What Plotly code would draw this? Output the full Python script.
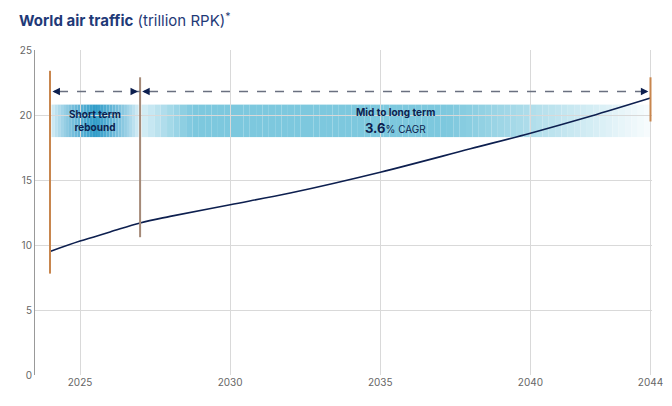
import plotly.graph_objects as go

years = [2024, 2025, 2026, 2027, 2028, 2030, 2032, 2035, 2038, 2040, 2042, 2044]
rpk = [9.5, 10.3, 11.0, 11.7, 12.2, 13.1, 14.0, 15.6, 17.4, 18.6, 19.9, 21.3]
xticks = [2025, 2030, 2035, 2040, 2044]
navy = "#0d1f4f"
band_lo, band_hi = 18.3, 20.8


def mix(a, b, t):
    return "rgb(%d,%d,%d)" % tuple(round(a[i] + (b[i] - a[i]) * t) for i in range(3))


light = (215, 238, 246)
mid = (125, 200, 222)
deep = (45, 155, 200)
white = (248, 252, 253)

shapes = []
# gradient bands built from thin slices
n = 30
for i in range(n):
    x0 = 2024.05 + (2026.95 - 2024.05) * i / n
    x1 = 2024.05 + (2026.95 - 2024.05) * (i + 1) / n
    t = 1 - abs((i + 0.5) / n - 0.5) * 2
    shapes.append(dict(type="rect", x0=x0, x1=x1, y0=band_lo, y1=band_hi, layer="below",
                       fillcolor=mix(light, deep, t ** 0.8), line=dict(width=0)))
n = 80
for i in range(n):
    x0 = 2027.05 + (2044 - 2027.05) * i / n
    x1 = 2027.05 + (2044 - 2027.05) * (i + 1) / n
    f = (i + 0.5) / n
    if f < 0.1:
        c = mix(light, mid, f / 0.1)
    elif f < 0.6:
        c = mix(mid, mid, 0)
    else:
        c = mix(mid, white, (f - 0.6) / 0.4)
    shapes.append(dict(type="rect", x0=x0, x1=x1, y0=band_lo, y1=band_hi, layer="below",
                       fillcolor=c, line=dict(width=0)))

fig = go.Figure()
fig.add_trace(go.Scatter(x=years, y=rpk, mode="lines", line=dict(color=navy, width=1.6,
                         shape="spline"), showlegend=False))

shapes += [
    dict(type="line", x0=2024, x1=2024, y0=7.8, y1=23.4, line=dict(color="#c8864e", width=2)),
    dict(type="line", x0=2027, x1=2027, y0=10.6, y1=22.9, line=dict(color="#a58a78", width=2)),
    dict(type="line", x0=2044, x1=2044, y0=19.5, y1=22.9, line=dict(color="#c8864e", width=2)),
    dict(type="line", x0=2024.3, x1=2043.7, y0=21.8, y1=21.8,
         line=dict(color="#6a7080", width=1.5, dash="dash")),
]
ann = []
for x0, x1 in [(2024.35, 2024.08), (2026.65, 2026.93), (2027.35, 2027.07), (2043.65, 2043.93)]:
    ann.append(dict(x=x1, y=21.8, ax=x0, ay=21.8, xref="x", yref="y", axref="x", ayref="y",
                    showarrow=True, arrowhead=2, arrowsize=1, arrowwidth=1.5,
                    arrowcolor=navy, text=""))
ann += [
    dict(x=2025.5, y=19.55, text="<b>Short term<br>rebound</b>", showarrow=False,
         font=dict(size=10, color=navy)),
    dict(x=2035.5, y=20.2, text="<b>Mid to long term</b>", showarrow=False,
         font=dict(size=10, color=navy)),
    dict(x=2035.5, y=19.0, text="<b><span style='font-size:13px'>3.6</span></b>% CAGR",
         showarrow=False, font=dict(size=10, color=navy)),
    dict(x=0, y=1.0, xref="paper", yref="paper", xanchor="left", yanchor="bottom",
         xshift=-18, yshift=18,
         text="<b>World air traffic</b> (trillion RPK)<sup>*</sup>", showarrow=False,
         font=dict(size=15, color="#1f3a78")),
]

fig.update_layout(
    width=672, height=406, plot_bgcolor="white", paper_bgcolor="white",
    margin=dict(l=18, r=28, t=42, b=39),
    font=dict(family="Inter, Roboto, sans-serif", color="#555"),
    shapes=shapes, annotations=ann,
    xaxis=dict(range=[2023.5, 2044.05], tickvals=xticks, showgrid=True, gridcolor="#d9d9d9",
               zeroline=False, showline=False, tickfont=dict(size=10, color="#666")),
    yaxis=dict(range=[0, 25], dtick=5, showgrid=True, gridcolor="#d9d9d9", zeroline=False,
               showline=True, linecolor="#999", ticks="", tickfont=dict(size=10, color="#666")),
)
fig.write_html("out.html")
